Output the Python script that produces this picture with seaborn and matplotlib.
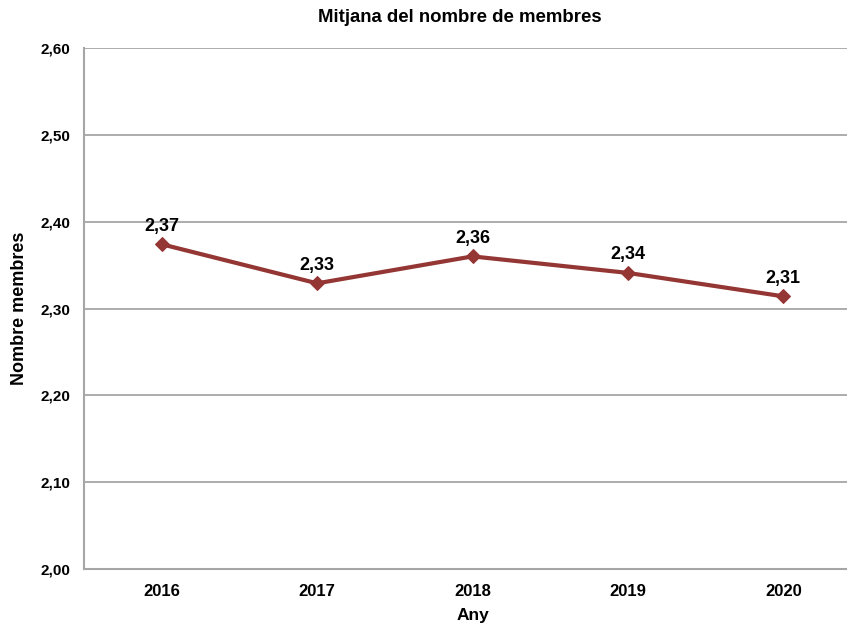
import matplotlib
matplotlib.use("Agg")
import matplotlib.pyplot as plt
import pandas as pd
import seaborn as sns

# data
years = ["2016", "2017", "2018", "2019", "2020"]
mean_members = [2.374, 2.329, 2.360, 2.341, 2.314]
y_ticks = [2.0, 2.1, 2.2, 2.3, 2.4, 2.5, 2.6]

line_color = "#943634"
grid_color = "#a6a6a6"

sns.set_style("white")
plt.rcParams["font.family"] = ["Liberation Sans", "DejaVu Sans"]
plt.rcParams["font.weight"] = "bold"
plt.rcParams["text.color"] = "black"
plt.rcParams["axes.labelcolor"] = "black"
plt.rcParams["xtick.color"] = "black"
plt.rcParams["ytick.color"] = "black"

df = pd.DataFrame({"Any": years, "Nombre membres": mean_members})

fig = plt.figure(figsize=(8.47, 6.25), dpi=100)
ax = fig.add_axes([84 / 847, 56 / 625, 777 / 847, 521 / 625])

sns.lineplot(data=df, x="Any", y="Nombre membres", ax=ax, color=line_color,
             linewidth=3, marker="D", markersize=7, markeredgecolor=line_color)

# data labels
for i, v in enumerate(mean_members):
    ax.annotate(f"{v:.2f}".replace(".", ","), (i, v), xytext=(0, 7),
                textcoords="offset points", ha="center", va="bottom",
                fontsize=13, fontweight="bold")

ax.set_ylim(2.0, 2.6)
ax.set_xlim(-0.5, 4.5)
ax.set_yticks(y_ticks)
ax.set_yticklabels([f"{t:.2f}".replace(".", ",") for t in y_ticks],
                   fontsize=11, fontweight="bold")
ax.tick_params(axis="x", labelsize=12, pad=11, length=0)
ax.tick_params(axis="y", pad=10, length=0)
for lbl in ax.get_xticklabels():
    lbl.set_fontweight("bold")

ax.yaxis.grid(True, color=grid_color, linewidth=1.3)
ax.set_axisbelow(True)
for side in ["top", "right"]:
    ax.spines[side].set_visible(False)
for side in ["left", "bottom"]:
    ax.spines[side].set_color(grid_color)
    ax.spines[side].set_linewidth(1.5)

ax.set_xlabel("Any", fontsize=12.5, fontweight="bold", labelpad=6)
ax.set_ylabel("Nombre membres", fontsize=13, fontweight="bold", labelpad=9)
fig.text(460 / 847, 1 - 18 / 625, "Mitjana del nombre de membres",
         ha="center", va="center", fontsize=13.4, fontweight="bold")

fig.savefig("out.png", dpi=100)
